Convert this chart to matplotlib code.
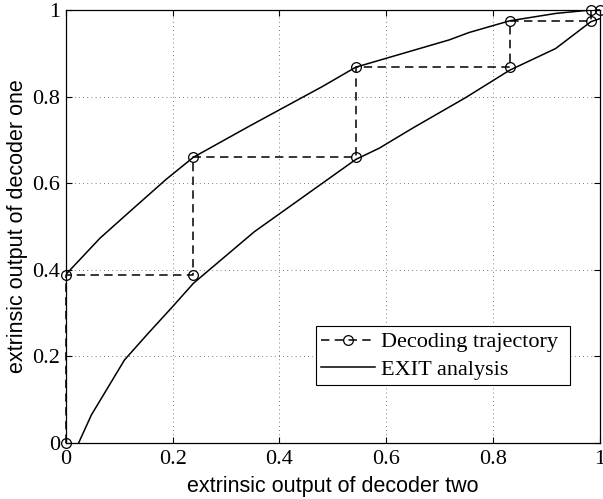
import numpy as np
import matplotlib.pyplot as plt

# decoding trajectory (staircase between the two EXIT curves)
traj_x = [0.0, 0.0, 0.239, 0.239, 0.543, 0.543, 0.831, 0.831, 0.983, 0.983, 1.0]
traj_y = [0.0, 0.389, 0.389, 0.66, 0.66, 0.868, 0.868, 0.975, 0.975, 1.0, 1.0]

# EXIT curve of decoder one
exit1_x = [0.0, 0.064, 0.123, 0.188, 0.239, 0.344, 0.48, 0.543, 0.718, 0.755, 0.831, 0.917, 0.983, 1.0]
exit1_y = [0.389, 0.473, 0.538, 0.609, 0.66, 0.732, 0.823, 0.868, 0.931, 0.948, 0.975, 0.992, 1.0, 1.0]

# EXIT curve of decoder two (inverted axes)
exit2_x = [0.024, 0.048, 0.11, 0.154, 0.2, 0.239, 0.353, 0.543, 0.587, 0.649, 0.749, 0.831, 0.917, 0.983, 1.0]
exit2_y = [0.0, 0.065, 0.192, 0.253, 0.315, 0.369, 0.488, 0.655, 0.681, 0.727, 0.798, 0.861, 0.911, 0.973, 0.98]

ticks = [0, 0.2, 0.4, 0.6, 0.8, 1]
tick_labels = ['0', '0.2', '0.4', '0.6', '0.8', '1']

fig = plt.figure(figsize=(6.03, 4.99), dpi=100)
ax = fig.add_axes([0.109, 0.112, 0.886, 0.868])

ax.plot(traj_x, traj_y, color='black', linestyle=(0, (5.5, 3.5)), linewidth=1.1,
        marker='o', markersize=7, markerfacecolor='none', markeredgewidth=0.9,
        label='Decoding trajectory', clip_on=False, zorder=2)
ax.plot(exit1_x, exit1_y, color='black', linewidth=1.1, label='EXIT analysis')
ax.plot(exit2_x, exit2_y, color='black', linewidth=1.1)

ax.set_xlim(0, 1)
ax.set_ylim(0, 1)
ax.set_xticks(ticks)
ax.set_yticks(ticks)
serif = ['Liberation Serif', 'DejaVu Serif']
ax.set_xticklabels(tick_labels, family=serif, fontsize=16)
ax.set_yticklabels(tick_labels, family=serif, fontsize=16)
ax.tick_params(direction='in', top=True, right=True, length=4, width=0.8)
ax.tick_params(axis='x', pad=5)
ax.tick_params(axis='y', pad=4)

ax.grid(True, linestyle=(0, (1, 4)), color='#555555', linewidth=0.6)
for s in ax.spines.values():
    s.set_linewidth(0.9)

sans = ['Liberation Sans', 'DejaVu Sans']
ax.set_xlabel('extrinsic output of decoder two', family=sans, fontsize=15.5, labelpad=5)
ax.set_ylabel('extrinsic output of decoder one', family=sans, fontsize=15.5, labelpad=3)

leg = ax.legend(loc='lower left', bbox_to_anchor=(0.468, 0.134, 0.476, 0.134), mode='expand',
                prop={'family': serif, 'size': 16}, frameon=True, fancybox=False,
                edgecolor='black', framealpha=1, handlelength=2.4, handletextpad=0.3,
                borderpad=0.25, labelspacing=0.3, borderaxespad=0)
leg.get_frame().set_linewidth(0.8)

fig.savefig('out.png', dpi=100)
